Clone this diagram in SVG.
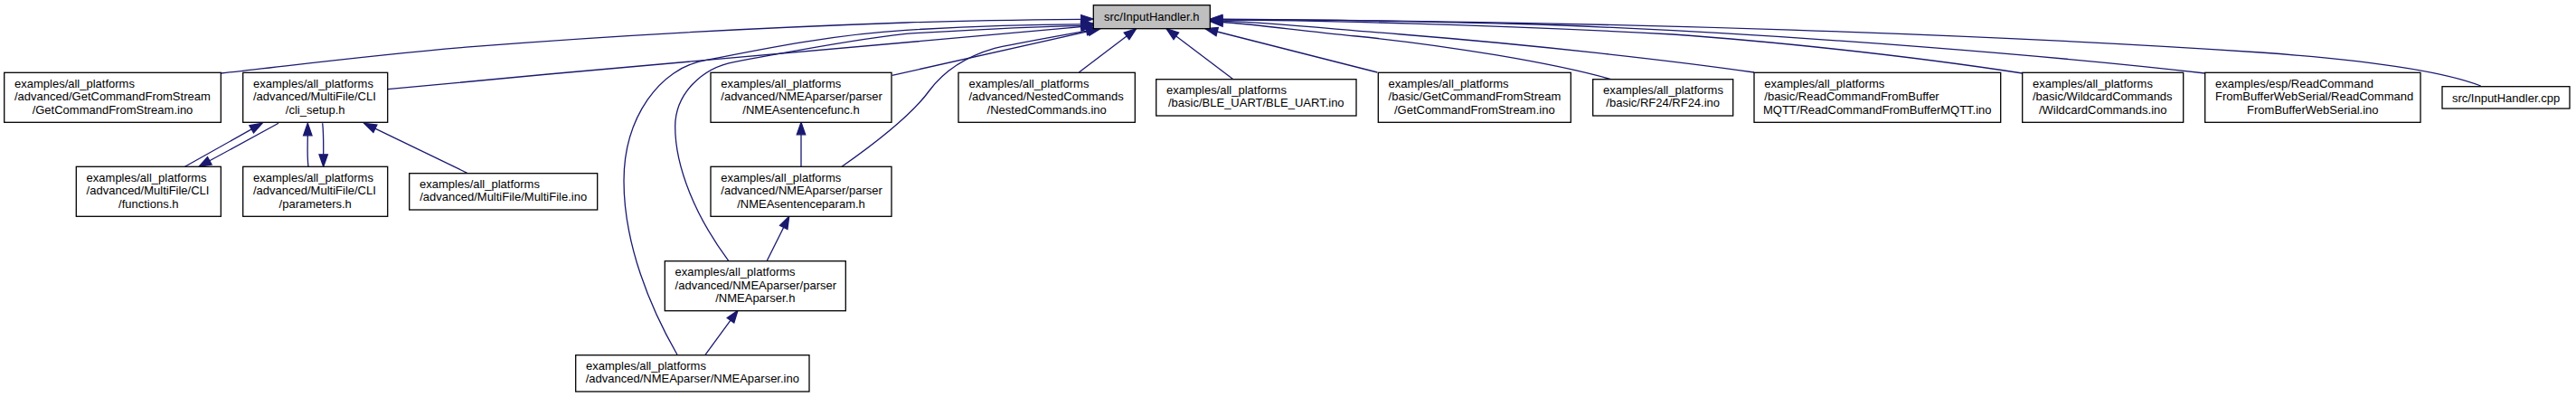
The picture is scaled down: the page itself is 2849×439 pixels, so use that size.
<svg xmlns="http://www.w3.org/2000/svg" width="2849" height="439" viewBox="0 0 2849 439">
<style>
.n rect{fill:#fff;stroke:#000;stroke-width:1.3}
.m rect{fill:#bfbfbf;stroke:#000;stroke-width:1.3}
text{font-family:"Liberation Sans",Arial,Helvetica,sans-serif;font-size:13px;fill:#000}
.c{text-anchor:middle}
#edges path{fill:none;stroke:#191970;stroke-width:1.3}
#edges polygon{fill:#191970;stroke:#191970;stroke-width:1.3}
</style>
<rect width="2849" height="439" fill="#fff"/>
<g id="edges">
<!-- left side to main -->
<path d="M244.3,81 C336.9,70.8 429.4,59.1 522,51.7 C682,38.9 842,30.6 1002,25 C1066.7,22.7 1131.3,21.9 1195.8,21.3"/>
<polygon points="1209.3,21 1195.9,26 1195.7,16.6"/>
<path d="M428.7,98.7 C700,73 1000,45.5 1195.8,29.7"/>
<polygon points="1209.3,28.6 1196.2,34.4 1195.4,25"/>
<path d="M749,392.3 C719,340 690,270 690,200 C690,130 730,75 780,66.7 C854,51.7 928,37.7 1002,33.3 C1067,29.4 1131,27 1195.8,26.8"/>
<polygon points="1209.3,26.2 1196.1,31.5 1195.5,22.1"/>
<path d="M805.7,288.3 C769.7,240 746.7,185 746.7,140 C746.7,105 775,75 813,68.3 C876,57 939,44 1002,37.3 C1067,33.5 1131,29.5 1195.8,28.6"/>
<polygon points="1209.3,28 1196.1,33.3 1195.5,23.9"/>
<path d="M931,184.3 C970,157 1010,125 1028,100 C1045,77 1070,62 1100,53.3 C1140,45 1175,39 1201.7,34.2"/>
<polygon points="1215,31.7 1202.6,38.8 1200.8,29.6"/>
<path d="M986.7,83.3 L1203.8,34.7"/>
<polygon points="1217,31.7 1204.8,39.3 1202.8,30.1"/>
<path d="M1193.3,80 L1246,39.9"/>
<polygon points="1256.7,31.7 1248.9,43.6 1243.2,36.2"/>
<!-- right side to main -->
<path d="M1363.3,87.3 L1300.8,39.9"/>
<polygon points="1290,31.7 1303.6,36.2 1298,43.6"/>
<path d="M1523.3,80 L1346.1,35"/>
<polygon points="1333,31.7 1347.3,30.4 1345,39.6"/>
<path d="M1781.6,87.7 C1720,70 1600,50 1500,40 C1430,33 1390,27 1351.8,24.5"/>
<polygon points="1338.3,23.6 1351.5,19.8 1352.1,29.2"/>
<path d="M1940,80 C1850,67 1700,50 1550,38 C1450,30 1400,25 1351.8,23.2"/>
<polygon points="1338.3,22.6 1351.6,18.5 1352,27.9"/>
<path d="M2236.7,81 C2100,60 1950,45 1850,38 C1650,27 1450,22.5 1351.8,22.2"/>
<polygon points="1338.3,21.9 1351.8,17.5 1351.8,26.9"/>
<path d="M2438.7,81 C2300,65 2000,38 1700,27 C1550,23 1420,21.5 1351.8,21.6"/>
<polygon points="1338.3,21.5 1351.8,16.9 1351.8,26.3"/>
<path d="M2743.7,95 C2710,82 2640,68 2500,58 C2200,38 1800,24 1351.8,21.2"/>
<polygon points="1338.3,21.1 1351.8,16.5 1351.8,25.9"/>
<!-- CLI group -->
<path d="M204.5,184.3 L278.2,142.9"/>
<polygon points="290,136.3 280.5,147 275.9,138.8"/>
<path d="M308,136.3 L231.8,177.8"/>
<polygon points="220,184.3 234.1,181.9 229.5,173.7"/>
<path d="M341,184.3 C339.5,172 340.3,160 340.3,149.8"/>
<polygon points="340.3,136.3 345,149.8 335.6,149.8"/>
<path d="M356.7,136.3 C358,148 357.7,160 357.7,170.8"/>
<polygon points="357.7,184.3 353,170.8 362.4,170.8"/>
<path d="M516.7,191.3 L414.9,142.2"/>
<polygon points="402.7,136.3 416.9,138 412.9,146.4"/>
<!-- NMEA group -->
<path d="M780,392.3 L808,354.2"/>
<polygon points="816,343.3 811.8,357 804.2,351.4"/>
<path d="M848.3,288.3 L866.7,251.4"/>
<polygon points="872.7,239.3 870.9,253.5 862.5,249.3"/>
<path d="M886,184.3 L886,148.8"/>
<polygon points="886,135.3 890.7,148.8 881.3,148.8"/>
</g>
<g id="n_main" class="m"><rect x="1209.3" y="5.7" width="129" height="26"/><text class="c" x="1273.8" y="23">src/InputHandler.h</text></g>
<g id="n_gcfs_adv" class="n"><rect x="4.7" y="80.3" width="239.6" height="55"/><text x="16" y="96.8">examples/all_platforms</text><text x="16" y="111.3">/advanced/GetCommandFromStream</text><text class="c" x="124.5" y="125.8">/GetCommandFromStream.ino</text></g>
<g id="n_cli_setup" class="n"><rect x="268.7" y="80.3" width="160" height="55"/><text x="280" y="96.8">examples/all_platforms</text><text x="280" y="111.3">/advanced/MultiFile/CLI</text><text class="c" x="348.7" y="125.8">/cli_setup.h</text></g>
<g id="n_functions" class="n"><rect x="84.3" y="184.3" width="160" height="55"/><text x="95.6" y="200.8">examples/all_platforms</text><text x="95.6" y="215.3">/advanced/MultiFile/CLI</text><text class="c" x="164.3" y="229.8">/functions.h</text></g>
<g id="n_parameters" class="n"><rect x="268.7" y="184.3" width="160" height="55"/><text x="280" y="200.8">examples/all_platforms</text><text x="280" y="215.3">/advanced/MultiFile/CLI</text><text class="c" x="348.7" y="229.8">/parameters.h</text></g>
<g id="n_multifile" class="n"><rect x="452.7" y="191.7" width="208" height="40.3"/><text x="464" y="207.5">examples/all_platforms</text><text class="c" x="556.7" y="222">/advanced/MultiFile/MultiFile.ino</text></g>
<g id="n_nmeaparser_ino" class="n"><rect x="636.7" y="392.7" width="258.3" height="40.3"/><text x="648" y="408.5">examples/all_platforms</text><text class="c" x="765.8" y="423">/advanced/NMEAparser/NMEAparser.ino</text></g>
<g id="n_sentencefunc" class="n"><rect x="786" y="80.3" width="200" height="55"/><text x="797.3" y="96.8">examples/all_platforms</text><text x="797.3" y="111.3">/advanced/NMEAparser/parser</text><text class="c" x="886" y="125.8">/NMEAsentencefunc.h</text></g>
<g id="n_sentenceparam" class="n"><rect x="786" y="184.3" width="200" height="55"/><text x="797.3" y="200.8">examples/all_platforms</text><text x="797.3" y="215.3">/advanced/NMEAparser/parser</text><text class="c" x="886" y="229.8">/NMEAsentenceparam.h</text></g>
<g id="n_nmeaparser_h" class="n"><rect x="735.3" y="288.7" width="200" height="55"/><text x="746.6" y="305.2">examples/all_platforms</text><text x="746.6" y="319.7">/advanced/NMEAparser/parser</text><text class="c" x="835.3" y="334.2">/NMEAparser.h</text></g>
<g id="n_nested" class="n"><rect x="1060" y="80.3" width="195.3" height="55"/><text x="1071.5" y="96.8">examples/all_platforms</text><text x="1071.5" y="111.3">/advanced/NestedCommands</text><text class="c" x="1157.7" y="125.8">/NestedCommands.ino</text></g>
<g id="n_ble" class="n"><rect x="1278.7" y="87.7" width="221.3" height="40.3"/><text x="1290" y="103.5">examples/all_platforms</text><text class="c" x="1389.3" y="118">/basic/BLE_UART/BLE_UART.ino</text></g>
<g id="n_gcfs_basic" class="n"><rect x="1524.3" y="80.3" width="213" height="55"/><text x="1535.6" y="96.8">examples/all_platforms</text><text x="1535.6" y="111.3">/basic/GetCommandFromStream</text><text class="c" x="1630.8" y="125.8">/GetCommandFromStream.ino</text></g>
<g id="n_rf24" class="n"><rect x="1761.7" y="87.7" width="155" height="40.3"/><text x="1773" y="103.5">examples/all_platforms</text><text class="c" x="1839.2" y="118">/basic/RF24/RF24.ino</text></g>
<g id="n_mqtt" class="n"><rect x="1940" y="80.3" width="272.7" height="55"/><text x="1951.3" y="96.8">examples/all_platforms</text><text x="1951.3" y="111.3">/basic/ReadCommandFromBuffer</text><text class="c" x="2076.3" y="125.8">MQTT/ReadCommandFromBufferMQTT.ino</text></g>
<g id="n_wildcard" class="n"><rect x="2236.7" y="80.3" width="178" height="55"/><text x="2248" y="96.8">examples/all_platforms</text><text x="2248" y="111.3">/basic/WildcardCommands</text><text class="c" x="2325.7" y="125.8">/WildcardCommands.ino</text></g>
<g id="n_esp" class="n"><rect x="2438.7" y="80.3" width="238.3" height="55"/><text x="2450" y="96.8">examples/esp/ReadCommand</text><text x="2450" y="111.3">FromBufferWebSerial/ReadCommand</text><text class="c" x="2557.8" y="125.8">FromBufferWebSerial.ino</text></g>
<g id="n_cpp" class="n"><rect x="2701" y="95.7" width="141" height="24.3"/><text class="c" x="2771.5" y="112.5">src/InputHandler.cpp</text></g>
</svg>
